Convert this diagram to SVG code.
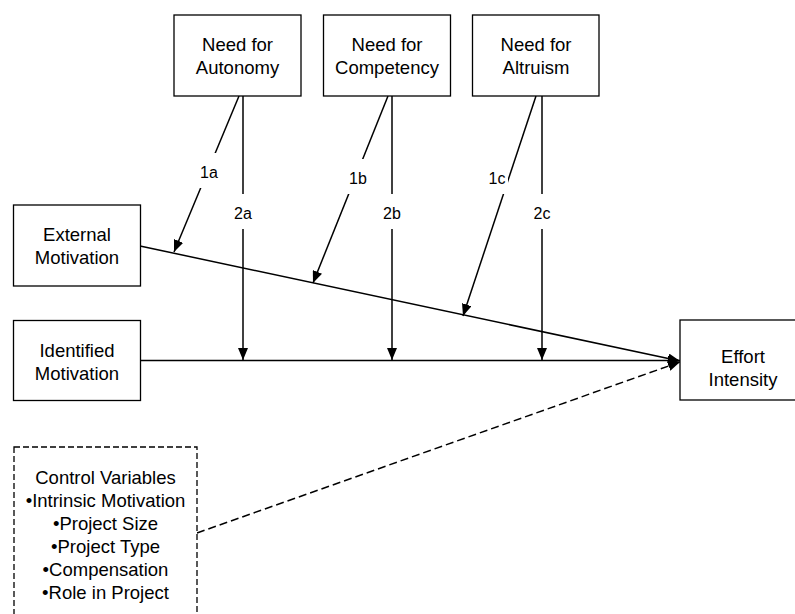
<svg xmlns="http://www.w3.org/2000/svg" width="795" height="614" viewBox="0 0 795 614">
<style>
.box{fill:#fff;stroke:#000;stroke-width:1.3}
.dbox{fill:#fff;stroke:#000;stroke-width:1.3;stroke-dasharray:6,3}
.t{font-family:"Liberation Sans",Arial,sans-serif;font-size:18.5px;fill:#000;text-anchor:middle}
.lbl{font-family:"Liberation Sans",Arial,sans-serif;font-size:16px;fill:#000;text-anchor:middle}
.c{stroke:#000;stroke-width:1.5;fill:none}
.dash{stroke-dasharray:8,4}
.bg{fill:#fff;stroke:none}
</style>
<defs>
<marker id="ah" markerUnits="userSpaceOnUse" markerWidth="12" markerHeight="10" refX="12" refY="5" orient="auto">
<path d="M0,0 L12,5 L0,10 z" fill="#000"/>
</marker>
</defs>
<rect width="795" height="614" fill="#fff"/>
<g id="connectors">
<line class="c" x1="140" y1="246" x2="680" y2="361" marker-end="url(#ah)"/>
<line class="c" x1="140" y1="360.5" x2="680" y2="360.5" marker-end="url(#ah)"/>
<line class="c dash" x1="197" y1="533" x2="680" y2="362" marker-end="url(#ah)"/>
<line class="c" x1="243" y1="96" x2="243" y2="360" marker-end="url(#ah)"/>
<line class="c" x1="392" y1="96" x2="392" y2="360" marker-end="url(#ah)"/>
<line class="c" x1="542" y1="96" x2="542" y2="360" marker-end="url(#ah)"/>
<line class="c" x1="239" y1="96" x2="174" y2="252" marker-end="url(#ah)"/>
<line class="c" x1="388" y1="96" x2="313" y2="283" marker-end="url(#ah)"/>
<line class="c" x1="536" y1="96" x2="463" y2="316" marker-end="url(#ah)"/>
<rect class="bg" x="198" y="153" width="22" height="35"/>
<rect class="bg" x="232" y="194" width="22" height="35"/>
<rect class="bg" x="346" y="159" width="22" height="35"/>
<rect class="bg" x="381" y="194" width="22" height="35"/>
<rect class="bg" x="486" y="159" width="22" height="35"/>
<rect class="bg" x="531" y="194" width="22" height="35"/>
<text class="lbl" x="209" y="177.5">1a</text>
<text class="lbl" x="243" y="218.5">2a</text>
<text class="lbl" x="358" y="183.5">1b</text>
<text class="lbl" x="392" y="218.5">2b</text>
<text class="lbl" x="497" y="183.5">1c</text>
<text class="lbl" x="542" y="218.5">2c</text>
</g>
<g id="autonomy">
<rect class="box" x="174" y="15" width="127" height="81"/>
<text class="t" x="237.5" y="50.7">Need for</text>
<text class="t" x="237.5" y="74">Autonomy</text>
</g>
<g id="competency">
<rect class="box" x="323.5" y="15" width="127" height="81"/>
<text class="t" x="387" y="50.7">Need for</text>
<text class="t" x="387" y="74">Competency</text>
</g>
<g id="altruism">
<rect class="box" x="472.5" y="15" width="126.5" height="81"/>
<text class="t" x="536" y="50.7">Need for</text>
<text class="t" x="536" y="74">Altruism</text>
</g>
<g id="external">
<rect class="box" x="13.5" y="205" width="127" height="81"/>
<text class="t" x="77" y="240.7">External</text>
<text class="t" x="77" y="264">Motivation</text>
</g>
<g id="identified">
<rect class="box" x="13.5" y="320.5" width="127" height="80"/>
<text class="t" x="77" y="356.5">Identified</text>
<text class="t" x="77" y="379.5">Motivation</text>
</g>
<g id="effort">
<rect class="box" x="680" y="320" width="127" height="80"/>
<text class="t" x="743" y="363">Effort</text>
<text class="t" x="743" y="386">Intensity</text>
</g>
<g id="controls">
<rect class="dbox" x="14" y="447" width="183" height="180"/>
<text class="t" x="105.5" y="484">Control Variables</text>
<text class="t" x="105.5" y="507">•Intrinsic Motivation</text>
<text class="t" x="105.5" y="530">•Project Size</text>
<text class="t" x="105.5" y="553">•Project Type</text>
<text class="t" x="105.5" y="576">•Compensation</text>
<text class="t" x="105.5" y="599">•Role in Project</text>
</g>
</svg>
